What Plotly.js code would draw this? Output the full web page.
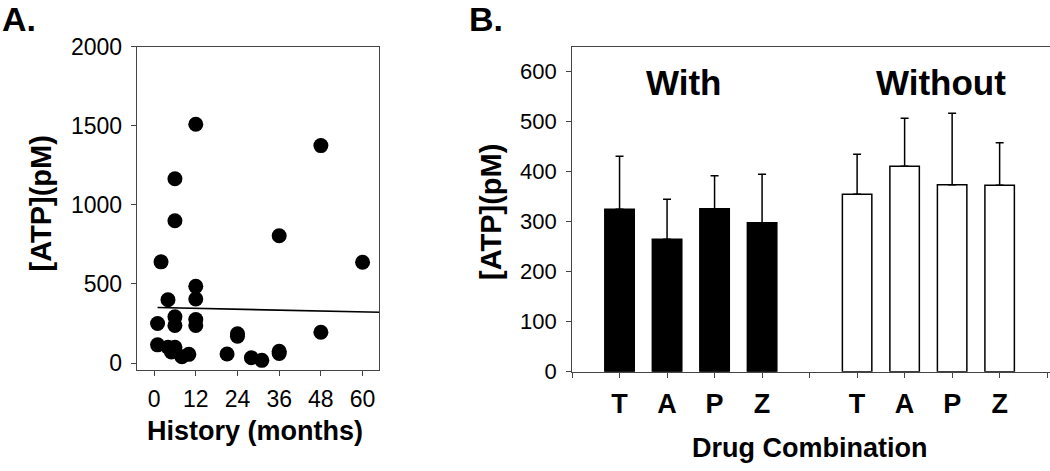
<!DOCTYPE html>
<html><head><meta charset="utf-8">
<script src="https://cdn.plot.ly/plotly-3.0.1.min.js"></script>
<style>html,body{margin:0;padding:0;background:#fff}</style>
</head><body>
<div id="chart" style="width:1050px;height:471px"></div>
<script>
// Panel A: ATP vs history
const historyMonths = [12, 48, 6, 6, 36, 2, 60, 12, 4, 12, 6, 6, 12, 12, 1, 24, 24, 48, 1, 4, 6, 5, 8, 10, 21, 28, 31, 36, 36];
const atpValues     = [1510, 1375, 1165, 900, 805, 640, 637, 485, 400, 405, 292, 238, 275, 238, 250, 185, 170, 195, 115, 100, 100, 70, 40, 55, 57, 34, 17, 75, 60];
const trendMonths = [1, 65];
const trendAtp = [351, 321];
const historyTicks = [0, 12, 24, 36, 48, 60];
const atpTicksA = [0, 500, 1000, 1500, 2000];

// Panel B: drug combinations
const drugLabels = ['T', 'A', 'P', 'Z'];
const withMeans = [325, 265, 326, 298];
const withErr = [106, 80, 66, 97];
const withoutMeans = [355, 411, 374, 373];
const withoutErr = [80, 96, 143, 85];
const groupLabels = ['With', 'Without'];
const atpTicksB = [0, 100, 200, 300, 400, 500, 600];

const withPos = drugLabels.map((_, i) => i + 1);
const withoutPos = drugLabels.map((_, i) => i + 6);
const tickValsB = [];
const tickTextB = [];
for (let i = 0; i <= 10; i++) {
  tickValsB.push(i);
  let t = '';
  if (i >= 1 && i <= 4) t = drugLabels[i - 1];
  if (i >= 6 && i <= 9) t = drugLabels[i - 6];
  tickTextB.push(t);
}

const FONT = 'Liberation Sans, Arial, sans-serif';
const AX = '#444';

const traces = [
  {type: 'scatter', mode: 'markers', x: historyMonths, y: atpValues, xaxis: 'x', yaxis: 'y',
   marker: {color: '#000', size: 15}},
  {type: 'scatter', mode: 'lines', x: trendMonths, y: trendAtp, xaxis: 'x', yaxis: 'y',
   line: {color: '#000', width: 1.6}},
  {type: 'bar', x: withPos, y: withMeans, xaxis: 'x2', yaxis: 'y2', width: 0.62, name: groupLabels[0],
   marker: {color: '#000', line: {color: '#000', width: 1.5}},
   error_y: {type: 'data', array: withErr, arrayminus: withErr.map(() => 0), symmetric: false, color: '#000', thickness: 1.5, width: 4}},
  {type: 'bar', x: withoutPos, y: withoutMeans, xaxis: 'x2', yaxis: 'y2', width: 0.62, name: groupLabels[1],
   marker: {color: '#fff', line: {color: '#000', width: 1.5}},
   error_y: {type: 'data', array: withoutErr, arrayminus: withoutErr.map(() => 0), symmetric: false, color: '#000', thickness: 1.5, width: 4}}
];

const layout = {
  width: 1050, height: 471,
  margin: {l: 0, r: 0, t: 0, b: 0},
  paper_bgcolor: '#fff', plot_bgcolor: '#fff',
  showlegend: false,
  font: {family: FONT, color: '#000'},
  xaxis: {domain: [0.1302, 0.3612], range: [-5, 64.8], tickvals: historyTicks, ticks: 'outside', ticklen: 5,
          anchor: 'y', tickcolor: AX, showline: true, linecolor: AX, linewidth: 1, mirror: true, showgrid: false, zeroline: false,
          tickfont: {size: 23, family: FONT, color: '#000'}, ticklabelstandoff: 3, fixedrange: true},
  yaxis: {domain: [0.2144, 0.9008], range: [-44, 2000], tickvals: atpTicksA, ticks: 'outside', ticklen: 5,
          anchor: 'x', tickcolor: AX, showline: true, linecolor: AX, linewidth: 1, mirror: true, showgrid: false, zeroline: false,
          tickfont: {size: 23, family: FONT, color: '#000'}, ticklabelstandoff: 4, fixedrange: true},
  xaxis2: {domain: [0.5448, 1], range: [0, 10.06], tickvals: tickValsB, ticktext: tickTextB, ticks: 'outside', ticklen: 5,
           anchor: 'y2', tickcolor: AX, showline: true, linecolor: AX, linewidth: 1, mirror: true, showgrid: false, zeroline: false,
           tickfont: {size: 27, family: FONT, color: '#000', weight: 'bold'}, ticklabelstandoff: 3, fixedrange: true},
  yaxis2: {domain: [0.2108, 0.9008], range: [0, 650], tickvals: atpTicksB, ticks: 'outside', ticklen: 5,
           anchor: 'x2', tickcolor: AX, showline: true, linecolor: AX, linewidth: 1, mirror: false, showgrid: false, zeroline: false,
           tickfont: {size: 22, family: FONT, color: '#000'}, ticklabelstandoff: 5, fixedrange: true},
  annotations: [
    {text: 'A.', xref: 'paper', yref: 'paper', x: 0, y: 1 - 19/471, xanchor: 'left', yanchor: 'middle', showarrow: false,
     font: {size: 34, family: FONT, weight: 'bold'}},
    {text: 'B.', xref: 'paper', yref: 'paper', x: 467/1050, y: 1 - 19/471, xanchor: 'left', yanchor: 'middle', showarrow: false,
     font: {size: 34, family: FONT, weight: 'bold'}},
    {text: '[ATP](pM)', xref: 'paper', yref: 'paper', x: 40.5/1050, y: 1 - 204/471, xanchor: 'center', yanchor: 'middle',
     textangle: -90, showarrow: false, font: {size: 29, family: FONT, weight: 'bold'}},
    {text: '[ATP](pM)', xref: 'paper', yref: 'paper', x: 491/1050, y: 1 - 212/471, xanchor: 'center', yanchor: 'middle',
     textangle: -90, showarrow: false, font: {size: 29, family: FONT, weight: 'bold'}},
    {text: 'History (months)', xref: 'paper', yref: 'paper', x: 255/1050, y: 1 - 431/471, xanchor: 'center', yanchor: 'middle',
     showarrow: false, font: {size: 27, family: FONT, weight: 'bold'}},
    {text: 'Drug Combination', xref: 'paper', yref: 'paper', x: 809/1050, y: 1 - 448/471, xanchor: 'center', yanchor: 'middle',
     showarrow: false, font: {size: 27, family: FONT, weight: 'bold'}},
    {text: groupLabels[0], xref: 'paper', yref: 'paper', x: 684/1050, y: 1 - 83/471, xanchor: 'center', yanchor: 'middle',
     showarrow: false, font: {size: 35, family: FONT, weight: 'bold'}},
    {text: groupLabels[1], xref: 'paper', yref: 'paper', x: 941.5/1050, y: 1 - 83/471, xanchor: 'center', yanchor: 'middle',
     showarrow: false, font: {size: 35, family: FONT, weight: 'bold'}}
  ]
};

Plotly.newPlot('chart', traces, layout, {staticPlot: true, displayModeBar: false});
</script>
</body></html>
